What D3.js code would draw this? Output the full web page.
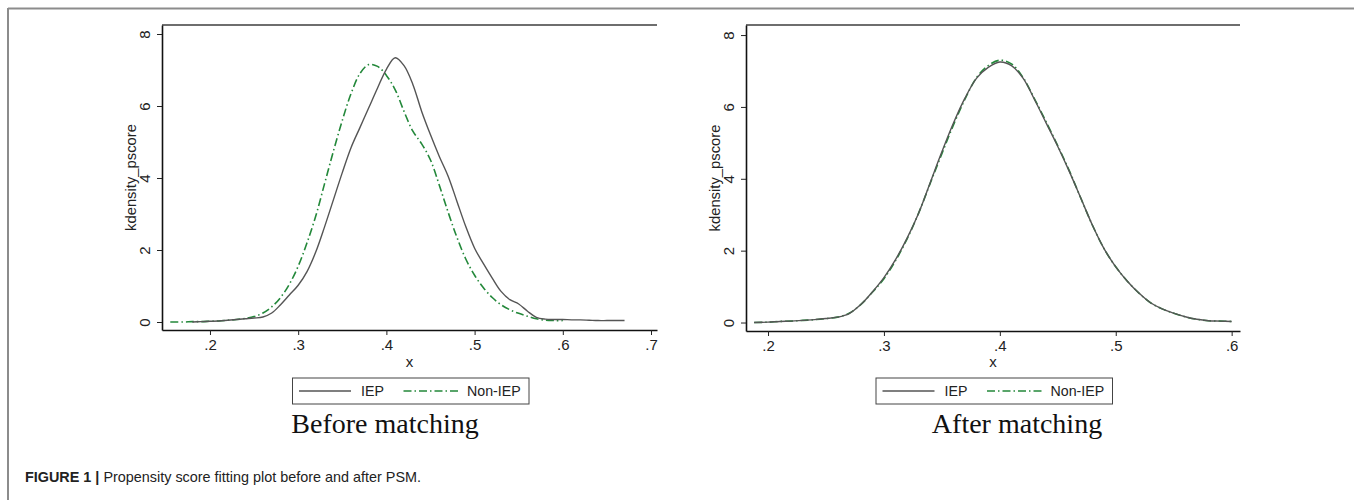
<!DOCTYPE html>
<html><head><meta charset="utf-8">
<script src="https://cdn.jsdelivr.net/npm/d3@7"></script>
<style>body{margin:0;background:#fff} svg{display:block}</style>
</head><body>
<svg id="chart" width="1354" height="500"></svg>
<script>
// ---------------- data ----------------
const xTicksBefore = [0.2, 0.3, 0.4, 0.5, 0.6, 0.7];
const xTicksAfter  = [0.2, 0.3, 0.4, 0.5, 0.6];
const yTicks = [0, 2, 4, 6, 8];
const seriesNames = ["IEP", "Non-IEP"];
const panelTitles = ["Before matching", "After matching"];
const xTitle = "x";
const yTitle = "kdensity_pscore";
const captionBold = "FIGURE 1 |";
const captionText = "Propensity score fitting plot before and after PSM.";

// Before matching, IEP (x, density)
const beforeIEP = [
  [0.18,0.00],[0.19,0.01],[0.20,0.02],[0.21,0.03],[0.22,0.05],[0.23,0.07],[0.24,0.09],[0.25,0.11],
  [0.26,0.14],[0.27,0.25],[0.28,0.48],[0.29,0.75],[0.30,1.02],[0.31,1.40],[0.32,1.95],[0.33,2.65],
  [0.34,3.40],[0.35,4.15],[0.36,4.85],[0.37,5.40],[0.38,5.95],[0.39,6.50],[0.40,7.02],[0.41,7.34],
  [0.42,7.12],[0.43,6.60],[0.44,5.85],[0.45,5.20],[0.46,4.60],[0.47,4.05],[0.48,3.35],[0.49,2.65],
  [0.50,2.05],[0.51,1.62],[0.52,1.22],[0.53,0.85],[0.54,0.62],[0.55,0.50],[0.56,0.30],[0.57,0.13],
  [0.58,0.08],[0.59,0.07],[0.60,0.07],[0.61,0.06],[0.62,0.06],[0.63,0.05],[0.64,0.04],[0.65,0.04],
  [0.66,0.04],[0.67,0.04]
];
// Before matching, Non-IEP
const beforeNonIEP = [
  [0.155,0.00],[0.17,0.00],[0.18,0.01],[0.19,0.01],[0.20,0.02],[0.21,0.03],[0.22,0.05],[0.23,0.07],
  [0.24,0.10],[0.25,0.15],[0.26,0.25],[0.27,0.42],[0.28,0.68],[0.29,1.05],[0.30,1.55],[0.31,2.20],
  [0.32,2.95],[0.33,3.85],[0.34,4.75],[0.35,5.60],[0.36,6.35],[0.37,6.90],[0.38,7.15],[0.39,7.10],
  [0.40,6.85],[0.41,6.45],[0.42,5.85],[0.43,5.30],[0.44,4.95],[0.45,4.50],[0.46,3.80],[0.47,3.05],
  [0.48,2.35],[0.49,1.75],[0.50,1.30],[0.51,0.95],[0.52,0.68],[0.53,0.48],[0.54,0.34],[0.55,0.24],
  [0.56,0.16],[0.57,0.09],[0.58,0.05],[0.59,0.04],[0.60,0.04]
];
// After matching, IEP
const afterIEP = [
  [0.188,0.00],[0.20,0.01],[0.21,0.03],[0.22,0.04],[0.23,0.06],[0.24,0.08],[0.25,0.11],[0.26,0.15],
  [0.27,0.25],[0.28,0.50],[0.29,0.85],[0.30,1.25],[0.31,1.75],[0.32,2.35],[0.33,3.05],[0.34,3.90],
  [0.35,4.75],[0.36,5.55],[0.37,6.25],[0.38,6.80],[0.39,7.10],[0.40,7.25],[0.41,7.15],[0.42,6.80],
  [0.43,6.20],[0.44,5.55],[0.45,4.90],[0.46,4.20],[0.47,3.45],[0.48,2.70],[0.49,2.05],[0.50,1.55],
  [0.51,1.15],[0.52,0.82],[0.53,0.55],[0.54,0.38],[0.55,0.26],[0.56,0.16],[0.57,0.09],[0.58,0.05],
  [0.59,0.04],[0.60,0.03]
];
// After matching, Non-IEP
const afterNonIEP = [
  [0.188,0.00],[0.20,0.01],[0.21,0.03],[0.22,0.04],[0.23,0.06],[0.24,0.08],[0.25,0.11],[0.26,0.15],
  [0.27,0.26],[0.28,0.50],[0.29,0.84],[0.30,1.22],[0.31,1.72],[0.32,2.33],[0.33,3.05],[0.34,3.88],
  [0.35,4.70],[0.36,5.50],[0.37,6.22],[0.38,6.82],[0.39,7.15],[0.40,7.30],[0.41,7.20],[0.42,6.82],
  [0.43,6.22],[0.44,5.58],[0.45,4.92],[0.46,4.22],[0.47,3.45],[0.48,2.70],[0.49,2.05],[0.50,1.55],
  [0.51,1.15],[0.52,0.82],[0.53,0.55],[0.54,0.38],[0.55,0.26],[0.56,0.16],[0.57,0.09],[0.58,0.05],
  [0.59,0.04],[0.60,0.03]
];

// ---------------- layout ----------------
const svg = d3.select("#chart");
svg.append("rect").attr("width",1354).attr("height",500).attr("fill","#fff");

// outer frame (top + left)
svg.append("line").attr("x1",8).attr("x2",1354).attr("y1",8.5).attr("y2",8.5)
  .attr("stroke","#8c8c8c").attr("stroke-width",2);
svg.append("line").attr("x1",8).attr("x2",8).attr("y1",8).attr("y2",500)
  .attr("stroke","#8c8c8c").attr("stroke-width",2);

const SANS = "'Liberation Sans', Arial, Helvetica, sans-serif";
const SERIF = "'Liberation Serif', 'Times New Roman', serif";
const IEP_COLOR = "#555555";
const NON_COLOR = "#23883a";
const NON_DASH = "8,3,1.5,3";

const panels = [
  { left:162, right:657, top:25, bottom:330, xDom:[0.1456,0.7068], yDom:[-0.222,8.25],
    ticks:xTicksBefore, iep:beforeIEP, non:beforeNonIEP, title:panelTitles[0], titleX:385 },
  { left:746, right:1240, top:25, bottom:331, xDom:[0.181,0.6072], yDom:[-0.236,8.28],
    ticks:xTicksAfter, iep:afterIEP, non:afterNonIEP, title:panelTitles[1], titleX:1017 }
];

const fmt = v => String(v).replace(/^0\./, ".");

panels.forEach(p => {
  const g = svg.append("g");
  const x = d3.scaleLinear().domain(p.xDom).range([p.left, p.right]);
  const y = d3.scaleLinear().domain(p.yDom).range([p.bottom, p.top]);

  // top border of plot region
  g.append("line").attr("x1",p.left).attr("x2",p.right).attr("y1",p.top).attr("y2",p.top)
    .attr("stroke","#6e6e6e").attr("stroke-width",1.8);

  // curves
  const line = d3.line().x(d=>x(d[0])).y(d=>y(d[1])).curve(d3.curveCatmullRom.alpha(0.5));
  g.append("path").datum(p.non).attr("d",line).attr("fill","none")
    .attr("stroke",NON_COLOR).attr("stroke-width",1.6).attr("stroke-dasharray",NON_DASH);
  g.append("path").datum(p.iep).attr("d",line).attr("fill","none")
    .attr("stroke",IEP_COLOR).attr("stroke-width",1.4);

  // x axis
  const xa = g.append("g").attr("transform",`translate(0,${p.bottom})`)
    .call(d3.axisBottom(x).tickValues(p.ticks).tickFormat(fmt).tickSize(5).tickSizeOuter(0).tickPadding(4));
  xa.select(".domain").attr("stroke","#111").attr("stroke-width",1.6);
  xa.selectAll(".tick line").attr("stroke","#222").attr("stroke-width",1);
  xa.selectAll(".tick text").attr("font-family",SANS).attr("font-size",15).attr("fill","#222");

  // y axis
  const ya = g.append("g").attr("transform",`translate(${p.left},0)`)
    .call(d3.axisLeft(y).tickValues(yTicks).tickFormat(d3.format("d")).tickSize(5).tickSizeOuter(0));
  ya.select(".domain").attr("stroke","#111").attr("stroke-width",1.6);
  ya.selectAll(".tick line").attr("stroke","#222").attr("stroke-width",1);
  ya.selectAll(".tick text")
    .attr("font-family",SANS).attr("font-size",15).attr("fill","#222")
    .attr("x",null).attr("dy",null)
    .attr("text-anchor","middle")
    .attr("transform","translate(-12,0) rotate(-90)");

  // axis titles
  const cx = (p.left + p.right) / 2;
  g.append("text").attr("x",cx).attr("y",367).attr("text-anchor","middle")
    .attr("font-family",SANS).attr("font-size",15).attr("fill","#222").text(xTitle);
  g.append("text").attr("transform",`translate(${p.left-26},${(p.top+p.bottom)/2}) rotate(-90)`)
    .attr("text-anchor","middle").attr("font-family",SANS).attr("font-size",14.8).attr("fill","#222").text(yTitle);

  // legend
  const lx = cx - 117, ly = 378;
  const lg = g.append("g").attr("transform",`translate(${lx},${ly})`);
  lg.append("rect").attr("width",236.5).attr("height",26).attr("fill","#fff")
    .attr("stroke","#444").attr("stroke-width",1);
  lg.append("line").attr("x1",6.5).attr("x2",58.5).attr("y1",13).attr("y2",13)
    .attr("stroke",IEP_COLOR).attr("stroke-width",1.4);
  lg.append("text").attr("x",68.5).attr("y",18).attr("font-family",SANS).attr("font-size",14.2)
    .attr("fill","#222").text(seriesNames[0]);
  lg.append("line").attr("x1",111).attr("x2",167).attr("y1",13).attr("y2",13)
    .attr("stroke",NON_COLOR).attr("stroke-width",1.6).attr("stroke-dasharray",NON_DASH);
  lg.append("text").attr("x",174.5).attr("y",18).attr("font-family",SANS).attr("font-size",14.2)
    .attr("fill","#222").text(seriesNames[1]);

  // panel title
  g.append("text").attr("x",p.titleX).attr("y",433).attr("text-anchor","middle")
    .attr("font-family",SERIF).attr("font-size",28).attr("fill","#111").text(p.title);
});

// caption
const cap = svg.append("text").attr("x",25).attr("y",482).attr("font-family",SANS)
  .attr("font-size",14.4).attr("fill","#222");
cap.append("tspan").attr("font-weight","bold").text(captionBold);
cap.append("tspan").text(" " + captionText);
</script>
</body></html>
